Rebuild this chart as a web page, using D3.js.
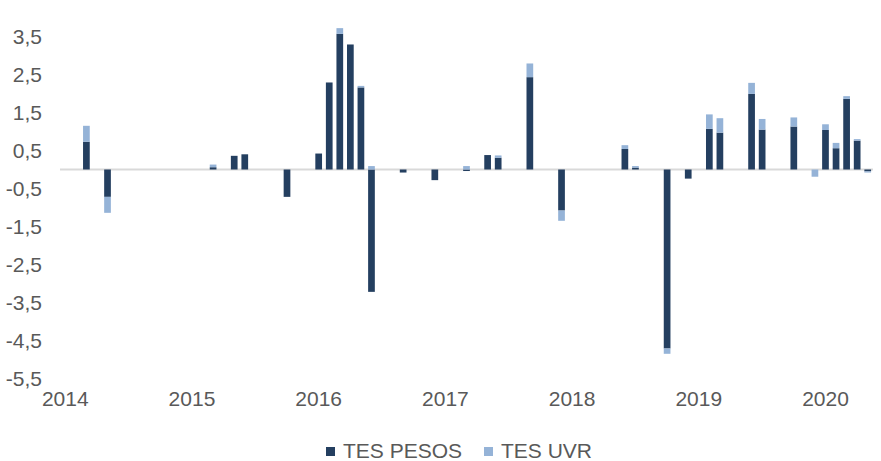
<!DOCTYPE html>
<html>
<head>
<meta charset="utf-8">
<script src="https://cdn.jsdelivr.net/npm/d3@7"></script>
<style>
  body { margin: 0; background: #fff; }
  svg { display: block; font-family: "Liberation Sans", Arial, sans-serif; }
</style>
</head>
<body>
<svg id="chart" width="881" height="461"></svg>
<script>
"use strict";

// months Jan 2014 .. May 2020
var months = [];
for (var y = 2014; y <= 2020; y++) {
	for (var m = 1; m <= 12; m++) {
		if (y === 2020 && m > 5) break;
		months.push(y + "-" + (m < 10 ? "0" + m : m));
	}
}

var seriesNames = ["TES PESOS", "TES UVR"];

var tesPesos = [
	0, 0, 0.73, 0, -0.72, 0, 0, 0, 0, 0, 0, 0,
	0, 0, 0.06, 0, 0.36, 0.40, 0, 0, 0, -0.72, 0, 0,
	0.42, 2.29, 3.57, 3.29, 2.16, -3.22, 0, 0, -0.08, 0, 0, -0.28,
	0, 0, -0.04, 0, 0.38, 0.31, 0, 0, 2.43, 0, 0, -1.08,
	0, 0, 0, 0, 0, 0.54, 0.05, 0, 0, -4.71, 0, -0.24,
	0, 1.07, 0.97, 0, 0, 1.99, 1.05, 0, 0, 1.13, 0, 0,
	1.04, 0.56, 1.86, 0.76, -0.05
];

var tesUvr = [
	0, 0, 0.42, 0, -0.42, 0, 0, 0, 0, 0, 0, 0,
	0, 0, 0.07, 0, 0, 0, 0, 0, 0, 0, 0, 0,
	0, 0, 0.15, 0, 0.04, 0.09, 0, 0, 0, 0, 0, 0,
	0, 0, 0.09, 0, 0, 0.06, 0, 0, 0.36, 0, 0, -0.27,
	0, 0, 0, 0, 0, 0.10, 0.04, 0, 0, -0.14, 0, 0,
	0, 0.38, 0.38, 0, 0, 0.29, 0.28, 0, 0, 0.24, 0, -0.19,
	0.15, 0.14, 0.07, 0.04, -0.03
];

var yTicks = [-5.5, -4.5, -3.5, -2.5, -1.5, -0.5, 0.5, 1.5, 2.5, 3.5];
var yearLabels = ["2014", "2015", "2016", "2017", "2018", "2019", "2020"];

var colors = ["#243f60", "#95b3d7"];
var textColor = "#595959";

var svg = d3.select("#chart");

var x = d3.scaleBand()
	.domain(months)
	.range([60, 873])
	.paddingInner(0.365)
	.paddingOuter(0.1825);

var y = d3.scaleLinear()
	.domain([-5.5, 3.5])
	.range([378.5, 36.5]);

var rows = months.map(function(mo, i) {
	return { month: mo, "TES PESOS": tesPesos[i], "TES UVR": tesUvr[i] };
});

var stacked = d3.stack()
	.keys(seriesNames)
	.offset(d3.stackOffsetDiverging)(rows);

// zero line
svg.append("line")
	.attr("x1", 60).attr("x2", 873)
	.attr("y1", y(0)).attr("y2", y(0))
	.attr("stroke", "#d9d9d9")
	.attr("stroke-width", 2);

svg.append("g").selectAll("g")
	.data(stacked)
	.join("g")
	.attr("fill", function(d, i) { return colors[i]; })
	.selectAll("rect")
	.data(function(d) { return d.filter(function(p) { return p[1] - p[0] !== 0; }); })
	.join("rect")
	.attr("x", function(d) { return x(d.data.month); })
	.attr("width", x.bandwidth())
	.attr("y", function(d) { return y(Math.max(d[0], d[1])); })
	.attr("height", function(d) { return Math.abs(y(d[0]) - y(d[1])); });

// y axis labels (comma decimals, plain hyphen minus)
var locale = d3.formatLocale({ decimal: ",", thousands: ".", grouping: [3], currency: ["$", ""], minus: "-" });
var fmt = locale.format(".1f");

var yAxis = svg.append("g")
	.attr("transform", "translate(42,0)")
	.call(d3.axisLeft(y).tickValues(yTicks).tickFormat(fmt).tickSize(0).tickPadding(0));
yAxis.select(".domain").remove();
yAxis.selectAll("text")
	.attr("fill", textColor)
	.style("font-size", "21px")
	.style("font-family", "Liberation Sans, Arial, sans-serif");

// x axis: year labels on January of each year
var xAxis = svg.append("g")
	.attr("transform", "translate(0,391)")
	.call(d3.axisBottom(x)
		.tickValues(yearLabels.map(function(yr) { return yr + "-01"; }))
		.tickFormat(function(d) { return d.slice(0, 4); })
		.tickSize(0).tickPadding(0));
xAxis.select(".domain").remove();
xAxis.selectAll("text")
	.attr("fill", textColor)
	.attr("dy", "0.71em")
	.style("font-size", "21px")
	.style("font-family", "Liberation Sans, Arial, sans-serif");

// legend
var legendX = [326, 484];
var legend = svg.append("g").selectAll("g")
	.data(seriesNames)
	.join("g")
	.attr("transform", function(d, i) { return "translate(" + legendX[i] + ",446)"; });
legend.append("rect")
	.attr("width", 9).attr("height", 9)
	.attr("y", 1)
	.attr("fill", function(d, i) { return colors[i]; });
legend.append("text")
	.attr("x", 17)
	.attr("y", 5)
	.attr("dy", "0.35em")
	.attr("fill", textColor)
	.style("font-size", "21px")
	.text(function(d) { return d; });
</script>
</body>
</html>
